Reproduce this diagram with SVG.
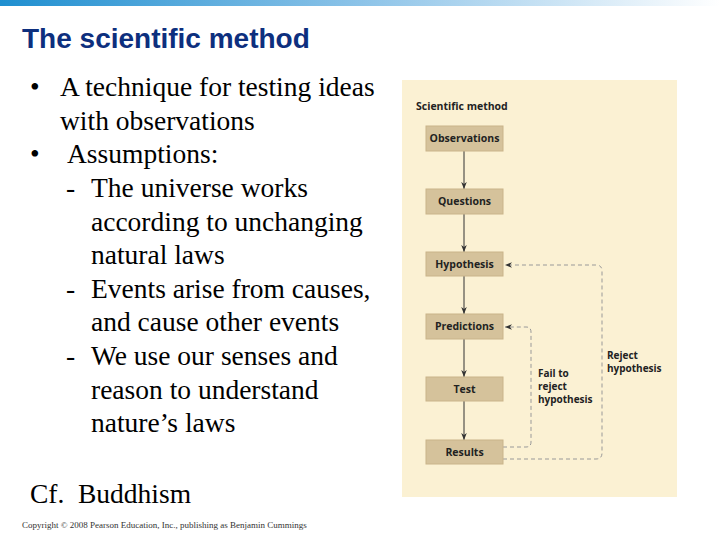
<svg xmlns="http://www.w3.org/2000/svg" width="720" height="540" viewBox="0 0 720 540">
<defs>
<linearGradient id="bar" x1="0" x2="1" y1="0" y2="0"><stop offset="0" stop-color="#1f8fd0"/><stop offset="0.5" stop-color="#8cc3e8"/><stop offset="1" stop-color="#ffffff"/></linearGradient>
<marker id="ah" viewBox="0 0 10 10" refX="10" refY="5" markerWidth="7" markerHeight="7" orient="auto"><path d="M0,1 L10,5 L0,9 L3,5 Z" fill="#333"/></marker>
</defs>
<style>
.b{fill:#d5c29b;stroke:#c9b48a;stroke-width:1}
.bt{font-family:"Open Sans","DejaVu Sans",sans-serif;font-weight:bold;font-size:10.5px;fill:#222;text-anchor:middle}
.lb{font-family:"Open Sans","DejaVu Sans",sans-serif;font-weight:bold;font-size:10px;fill:#222}
.t{font-family:"Liberation Serif",serif;font-size:27.5px;fill:#000}
.s{stroke:#333;stroke-width:1;fill:none}
.d{stroke:#999;stroke-width:1;fill:none;stroke-dasharray:4,3}
</style>
<rect x="0" y="0" width="720" height="6" fill="url(#bar)"/>
<text x="22" y="48" font-family="Liberation Sans,Arial,sans-serif" font-weight="bold" font-size="28" fill="#0d2f7e">The scientific method</text>
<g class="t">
<text x="30" y="96">•</text><text x="60" y="96">A technique for testing ideas</text>
<text x="60" y="130">with observations</text>
<text x="30" y="163">•</text><text x="67" y="163">Assumptions:</text>
<text x="66" y="197">-</text><text x="91" y="197">The universe works</text>
<text x="91" y="231">according to unchanging</text>
<text x="91" y="264">natural laws</text>
<text x="66" y="298">-</text><text x="91" y="298">Events arise from causes,</text>
<text x="91" y="331">and cause other events</text>
<text x="66" y="365">-</text><text x="91" y="365">We use our senses and</text>
<text x="91" y="399">reason to understand</text>
<text x="91" y="432">nature’s laws</text>
<text x="30" y="503">Cf.</text><text x="78" y="503">Buddhism</text>
</g>
<text x="22" y="528" font-family="Liberation Serif,serif" font-size="9" fill="#333">Copyright © 2008 Pearson Education, Inc., publishing as Benjamin Cummings</text>
<rect x="402" y="80" width="275" height="417" fill="#fbf1d3"/>
<text x="416" y="110" class="lb" style="font-size:10.5px">Scientific method</text>
<g id="connectors">
<line class="s" x1="464" y1="151" x2="464" y2="189" marker-end="url(#ah)"/>
<line class="s" x1="464" y1="214" x2="464" y2="252" marker-end="url(#ah)"/>
<line class="s" x1="464" y1="276" x2="464" y2="314" marker-end="url(#ah)"/>
<line class="s" x1="464" y1="339" x2="464" y2="377" marker-end="url(#ah)"/>
<line class="s" x1="464" y1="401" x2="464" y2="440" marker-end="url(#ah)"/>
<path class="d" d="M503,447 H526 Q531,447 531,442 V332 Q531,327 526,327 H505" marker-end="url(#ah)"/>
<path class="d" d="M503,459 H596 Q602,459 602,453 V271 Q602,265 596,265 H505" marker-end="url(#ah)"/>
</g>
<g id="observations"><rect class="b" x="426" y="126" width="77" height="25"/><text class="bt" x="464.5" y="142">Observations</text></g>
<g id="questions"><rect class="b" x="426" y="189" width="77" height="25"/><text class="bt" x="464.5" y="205">Questions</text></g>
<g id="hypothesis"><rect class="b" x="426" y="252" width="77" height="24"/><text class="bt" x="464.5" y="268">Hypothesis</text></g>
<g id="predictions"><rect class="b" x="426" y="314" width="77" height="25"/><text class="bt" x="464.5" y="330">Predictions</text></g>
<g id="test"><rect class="b" x="426" y="377" width="77" height="24"/><text class="bt" x="464.5" y="393">Test</text></g>
<g id="results"><rect class="b" x="426" y="440" width="77" height="24"/><text class="bt" x="464.5" y="456">Results</text></g>
<g class="lb"><text x="538" y="377">Fail to</text><text x="538" y="390">reject</text><text x="538" y="403">hypothesis</text>
<text x="607" y="359">Reject</text><text x="607" y="372">hypothesis</text></g>
</svg>
